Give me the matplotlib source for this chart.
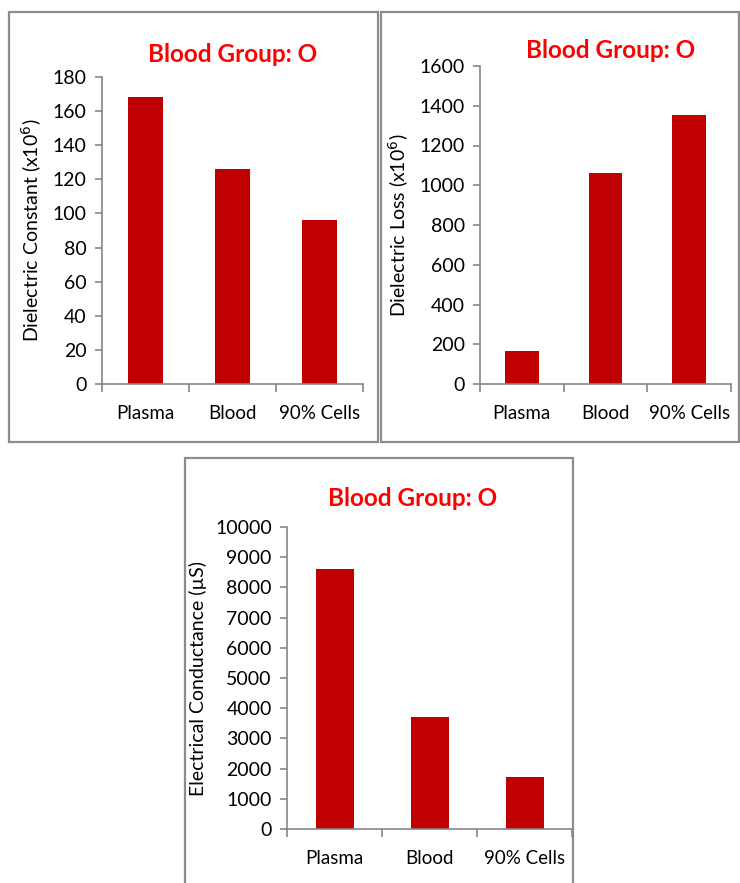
import matplotlib
matplotlib.use("Agg")
from matplotlib import pyplot as plt
from matplotlib.patches import Rectangle

plt.rcParams['font.family'] = ['Lato', 'DejaVu Sans']

categories = ["Plasma", "Blood", "90% Cells"]
dielectric_constant = [168, 126, 96]
dielectric_loss = [167, 1062, 1352]
conductance = [8600, 3700, 1710]

title = "Blood Group: O"
bar_color = "#C00000"
title_color = "#FF0000"
frame_color = "#8C8C8C"
axis_color = "#868686"

W, H = 740, 883
fig = plt.figure(figsize=(W / 100, H / 100), dpi=100)


def px_box(x0, y0, x1, y1):
    # pixel box (top-left origin) -> figure fraction [left, bottom, width, height]
    return [x0 / W, 1 - y1 / H, (x1 - x0) / W, (y1 - y0) / H]


def frame(x0, y0, x1, y1):
    l, b, w, h = px_box(x0, y0, x1, y1)
    fig.patches.append(Rectangle((l, b), w, h, transform=fig.transFigure,
                                 fill=False, edgecolor=frame_color, lw=1.6))


def panel(box, values, ymax, ystep, ylabel, title_xy):
    ax = fig.add_axes(px_box(*box))
    x = range(len(values))
    ax.bar(x, values, width=0.4, color=bar_color)
    ax.set_xlim(-0.5, len(values) - 0.5)
    ax.set_ylim(0, ymax)
    ax.set_yticks(range(0, ymax + 1, ystep))
    ax.set_xticks([i - 0.5 for i in range(len(values) + 1)])
    ax.set_xticklabels([])
    ax.set_xticks(list(x), minor=True)
    ax.set_xticklabels(categories, minor=True)
    ax.tick_params(axis='x', which='major', length=6, width=1.2, color=axis_color, direction='out')
    ax.tick_params(axis='x', which='minor', length=0, pad=15, labelsize=13.5)
    ax.tick_params(axis='y', length=5, width=1.2, color=axis_color, labelsize=14, pad=6)
    for s in ['top', 'right']:
        ax.spines[s].set_visible(False)
    for s in ['left', 'bottom']:
        ax.spines[s].set_color(axis_color)
        ax.spines[s].set_linewidth(1.2)
    ax.set_ylabel(ylabel, fontsize=14, labelpad=6)
    fig.text(title_xy[0] / W, 1 - title_xy[1] / H, title, color=title_color,
             fontsize=17.5, fontweight='bold', ha='center', va='center')
    return ax


frame(9, 12, 378, 442)
frame(381, 12, 739, 442)
frame(185, 458, 573, 890)

panel((102, 77, 363, 384), dielectric_constant, 180, 20,
      r"Dielectric Constant (x10$^{6}$)", (233, 55))
panel((480, 66, 731, 384), dielectric_loss, 1600, 200,
      r"Dielectric Loss (x10$^{6}$)", (611, 51))
panel((287, 527, 572, 829), conductance, 10000, 1000,
      "Electrical Conductance (µS)", (413, 498))

fig.savefig("out.png", dpi=100)
